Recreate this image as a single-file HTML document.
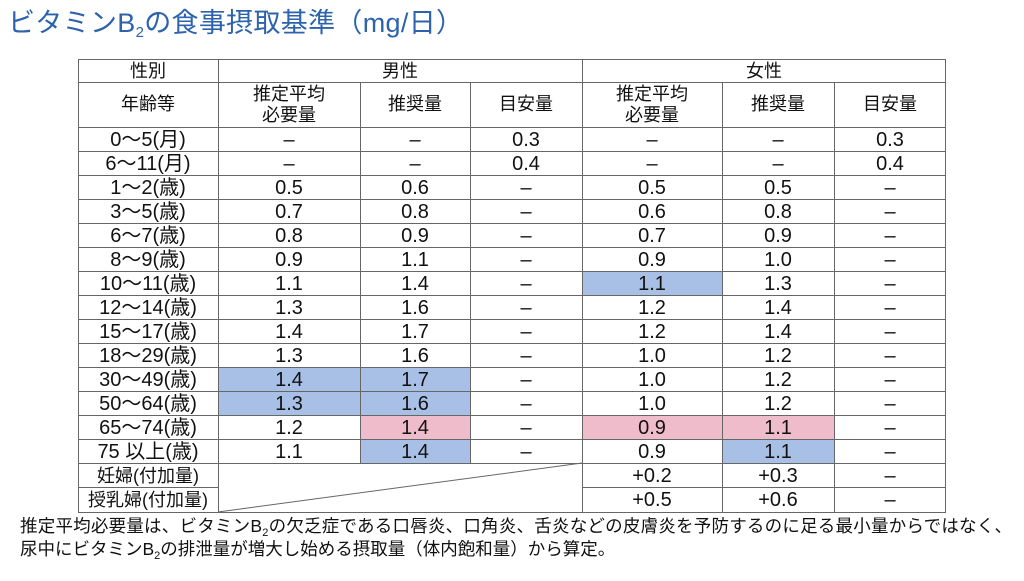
<!DOCTYPE html>
<html><head><meta charset="utf-8"><style>
body{margin:0;background:#fff;width:1024px;height:576px;overflow:hidden}
svg text{font-family:"Liberation Sans","Noto Sans CJK JP",sans-serif;fill:#111}
</style></head><body>
<svg width="1024" height="576" viewBox="0 0 1024 576" xmlns="http://www.w3.org/2000/svg">
<text x="8" y="32" textLength="455" style="font-size:27px;fill:#2d63ad">ビタミンB<tspan style="font-size:15px" dy="5">2</tspan><tspan dy="-5">の食事摂取基準（mg/日）</tspan></text>
<g>
<rect x="582" y="271" width="140" height="24" fill="#a9c0e6"/>
<rect x="218" y="367" width="252" height="48" fill="#a9c0e6"/>
<rect x="360" y="415" width="110" height="24" fill="#efbccb"/>
<rect x="582" y="415" width="252" height="24" fill="#efbccb"/>
<rect x="360" y="439" width="110" height="24" fill="#a9c0e6"/>
<rect x="722" y="439" width="112" height="24" fill="#a9c0e6"/>
</g>
<g stroke="#666" stroke-width="1" fill="none">
<rect x="78.5" y="59.5" width="867" height="453"/>
<line x1="78" y1="82.5" x2="946" y2="82.5"/>
<line x1="78" y1="127.5" x2="946" y2="127.5"/>
<line x1="218.5" y1="59" x2="218.5" y2="512"/>
<line x1="582.5" y1="59" x2="582.5" y2="512"/>
<line x1="360.5" y1="82" x2="360.5" y2="463"/>
<line x1="470.5" y1="82" x2="470.5" y2="463"/>
<line x1="722.5" y1="82" x2="722.5" y2="512"/>
<line x1="834.5" y1="82" x2="834.5" y2="512"/>
<line x1="582" y1="463" x2="218" y2="512"/>
</g>
<g id="hl" stroke="#666" stroke-width="1"></g>
<g style="font-size:18px" text-anchor="middle">
<text x="148" y="77">性別</text>
<text x="400" y="77">男性</text>
<text x="764" y="77">女性</text>
<text x="148" y="110">年齢等</text>
<text x="289" y="100">推定平均</text><text x="289" y="121">必要量</text>
<text x="415" y="110">推奨量</text>
<text x="526" y="110">目安量</text>
<text x="652" y="100">推定平均</text><text x="652" y="121">必要量</text>
<text x="778" y="110">推奨量</text>
<text x="890" y="110">目安量</text>
</g>
<g id="body" style="font-size:20px" text-anchor="middle"></g>
<text x="20" y="532" textLength="992" style="font-size:17.5px">推定平均必要量は、ビタミンB<tspan style="font-size:11px" dy="4">2</tspan><tspan dy="-4">の欠乏症である口唇炎、口角炎、舌炎などの皮膚炎を予防するのに足る最小量からではなく、</tspan></text>
<text x="20" y="555" style="font-size:17.5px">尿中にビタミンB<tspan style="font-size:11px" dy="4">2</tspan><tspan dy="-4">の排泄量が増大し始める摂取量（体内飽和量）から算定。</tspan></text>
<script>
var rows=[
["0～5(月)","–","–","0.3","–","–","0.3"],
["6～11(月)","–","–","0.4","–","–","0.4"],
["1～2(歳)","0.5","0.6","–","0.5","0.5","–"],
["3～5(歳)","0.7","0.8","–","0.6","0.8","–"],
["6～7(歳)","0.8","0.9","–","0.7","0.9","–"],
["8～9(歳)","0.9","1.1","–","0.9","1.0","–"],
["10～11(歳)","1.1","1.4","–","1.1","1.3","–"],
["12～14(歳)","1.3","1.6","–","1.2","1.4","–"],
["15～17(歳)","1.4","1.7","–","1.2","1.4","–"],
["18～29(歳)","1.3","1.6","–","1.0","1.2","–"],
["30～49(歳)","1.4","1.7","–","1.0","1.2","–"],
["50～64(歳)","1.3","1.6","–","1.0","1.2","–"],
["65～74(歳)","1.2","1.4","–","0.9","1.1","–"],
["75 以上(歳)","1.1","1.4","–","0.9","1.1","–"],
["妊婦(付加量)","","","","+0.2","+0.3","–"],
["授乳婦(付加量)","","","","+0.5","+0.6","–"]];
var cx=[148,289,415,526,652,778,890];
var ns="http://www.w3.org/2000/svg",b=document.getElementById("body"),h=document.getElementById("hl");
rows.forEach(function(r,i){
 var y=127+24*i;
 if(i>0){var l=document.createElementNS(ns,"line");
  if(i==15){l.setAttribute("x1",78);l.setAttribute("x2",218);var l2=document.createElementNS(ns,"line");l2.setAttribute("x1",582);l2.setAttribute("x2",946);l2.setAttribute("y1",y+.5);l2.setAttribute("y2",y+.5);h.appendChild(l2);}
  else {l.setAttribute("x1",78);l.setAttribute("x2",946);}
  l.setAttribute("y1",y+.5);l.setAttribute("y2",y+.5);h.appendChild(l);}
 r.forEach(function(t,j){if(!t)return;var e=document.createElementNS(ns,"text");
  e.setAttribute("x",cx[j]);e.setAttribute("y",y+19);
  if(i>=14&&j==0)e.setAttribute("style","font-size:18px");
  e.textContent=t;b.appendChild(e);});
});
</script>
</svg>
</body></html>
